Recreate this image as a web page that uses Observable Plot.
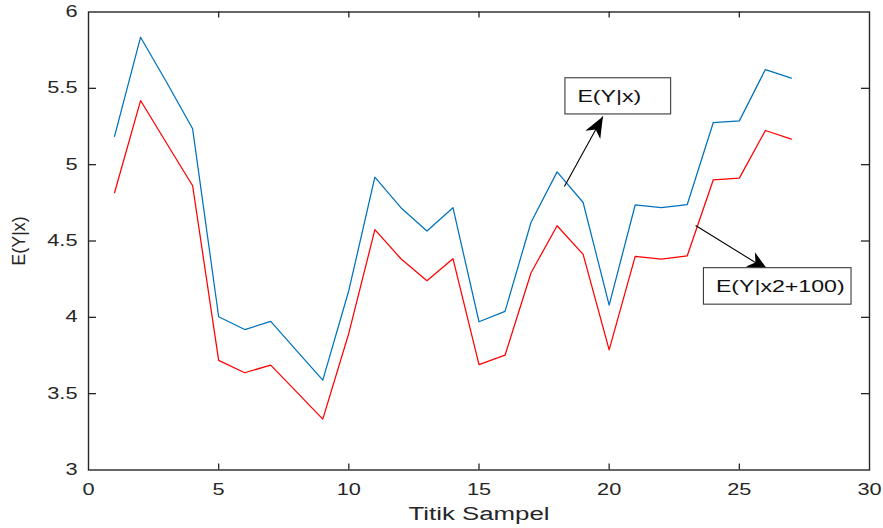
<!DOCTYPE html>
<html>
<head>
<meta charset="utf-8">
<script src="https://cdn.jsdelivr.net/npm/d3@7"></script>
<script src="https://cdn.jsdelivr.net/npm/@observablehq/plot@0.6"></script>
<style>
  html, body { margin: 0; padding: 0; background: #ffffff; }
  #chart svg { display: block; }
</style>
</head>
<body>
<div id="chart"></div>
<script>
// ---- data ----
const samples = [1,2,3,4,5,6,7,8,9,10,11,12,13,14,15,16,17,18,19,20,21,22,23,24,25,26,27];
const blueValues = [5.185,5.835,5.54,5.235,4.004,3.92,3.973,3.78,3.589,4.176,4.918,4.718,4.565,4.718,3.971,4.039,4.623,4.953,4.752,4.08,4.736,4.718,4.739,5.276,5.287,5.623,5.567];
const redValues  = [4.816,5.42,5.14,4.862,3.718,3.637,3.687,3.51,3.333,3.896,4.574,4.384,4.24,4.384,3.69,3.752,4.292,4.6,4.412,3.787,4.399,4.381,4.403,4.901,4.912,5.224,5.167];
const xTicks = [0,5,10,15,20,25,30];
const yTicks = [3,3.5,4,4.5,5,5.5,6];
const xLabel = "Titik Sampel";
const yLabel = "E(Y|x)";
// annotation boxes (data coordinates)
const boxLabels = ["E(Y|x)", "E(Y|x2+100)"];
const boxX1 = [18.32, 23.64];
const boxX2 = [22.38, 29.31];
const boxY1 = [5.329, 4.083];
const boxY2 = [5.566, 4.322];
// annotation arrows (data coordinates)
const arrowTailX = [18.28, 23.32];
const arrowTailY = [4.857, 4.602];
const arrowTipX  = [19.76, 26.11];
const arrowTipY  = [5.316, 4.307];

// ---- layout ----
const W = 883, H = 528;
const mL = 88, mR = 14, mT = 11.5, mB = 58.5;
const plotW = W - mL - mR, plotH = H - mT - mB;
const xDomain = [0, 30], yDomain = [3, 6];
const kx = plotW / (xDomain[1] - xDomain[0]);
const ky = plotH / (yDomain[1] - yDomain[0]);
const axisColor = "#262626";
const font = "'Liberation Sans', Arial, Helvetica, sans-serif";
const stretch = 1.36;

const blueData = samples.map((s, i) => ({x: s, y: blueValues[i]}));
const redData = samples.map((s, i) => ({x: s, y: redValues[i]}));
const arrowAngles = arrowTipX.map((_, i) => {
  const dx = (arrowTipX[i] - arrowTailX[i]) * kx;
  const dy = -(arrowTipY[i] - arrowTailY[i]) * ky;
  return Math.atan2(dx, -dy) * 180 / Math.PI;
});

const arrowHead = {
  draw(ctx) {
    ctx.moveTo(0, 0);
    ctx.lineTo(8.5, 21);
    ctx.lineTo(0, 15);
    ctx.lineTo(-8.5, 21);
    ctx.closePath();
  }
};

const chart = Plot.plot({
  width: W,
  height: H,
  marginLeft: mL,
  marginRight: mR,
  marginTop: mT,
  marginBottom: mB,
  style: {fontFamily: font, background: "#ffffff", color: axisColor},
  x: {domain: xDomain},
  y: {domain: yDomain},
  marks: [
    // data lines
    Plot.line(blueData, {x: "x", y: "y", stroke: "#0072BD", strokeWidth: 1.25}),
    Plot.line(redData, {x: "x", y: "y", stroke: "#FF0000", strokeWidth: 1.25}),
    // inward ticks on all four sides
    Plot.ruleX(xTicks.slice(1, -1), {x: d => d, insetTop: plotH - 6, stroke: axisColor, strokeWidth: 1.3}),
    Plot.ruleX(xTicks.slice(1, -1), {x: d => d, insetBottom: plotH - 6, stroke: axisColor, strokeWidth: 1.3}),
    Plot.ruleY(yTicks.slice(1, -1), {y: d => d, insetRight: plotW - 8, stroke: axisColor, strokeWidth: 1.3}),
    Plot.ruleY(yTicks.slice(1, -1), {y: d => d, insetLeft: plotW - 8, stroke: axisColor, strokeWidth: 1.3}),
    Plot.frame({stroke: axisColor, strokeWidth: 1.4}),
    // tick labels
    Plot.axisX({ticks: xTicks, tickSize: 0, tickPadding: 14, fontSize: 16, label: null, fill: axisColor, tickFormat: d => `${d}`}),
    Plot.axisY({ticks: yTicks, tickSize: 0, tickPadding: 11, fontSize: 16, label: null, fill: axisColor, tickFormat: d => `${d}`}),
    // axis titles
    Plot.text([xLabel], {frameAnchor: "bottom", dy: 37, lineAnchor: "top", fontSize: 19, fill: axisColor}),
    Plot.text([yLabel], {frameAnchor: "left", dx: -69, rotate: -90, textAnchor: "middle", lineAnchor: "middle", fontSize: 18, fill: axisColor}),
    // annotations
    Plot.link(boxLabels, {x1: arrowTailX, y1: arrowTailY, x2: arrowTipX, y2: arrowTipY, stroke: "#000000", strokeWidth: 1.1}),
    Plot.dot(boxLabels, {x: arrowTipX, y: arrowTipY, rotate: arrowAngles, symbol: arrowHead, fill: "#000000", stroke: "none", r: 5}),
    Plot.rect(boxLabels, {x1: boxX1, x2: boxX2, y1: boxY1, y2: boxY2, fill: "#ffffff", stroke: "#3a3a3a", strokeWidth: 1.1}),
    Plot.text(boxLabels, {x: boxX1, y: boxY1.map((v, i) => (v + boxY2[i]) / 2), dx: 12, textAnchor: "start", fontSize: 17, fill: "#111111"})
  ]
});

// horizontally widen glyphs (the reference's text is horizontally stretched)
d3.select(chart).selectAll("text").each(function() {
  const t = this.getAttribute("transform") || "";
  if (t.includes("rotate")) return;
  const x = parseFloat(this.getAttribute("x")) || 0;
  const dxAttr = this.getAttribute("dx");
  let dx = 0;
  if (dxAttr) {
    dx = dxAttr.endsWith("em") ? parseFloat(dxAttr) * 16 : parseFloat(dxAttr) || 0;
    this.removeAttribute("dx");
  }
  this.removeAttribute("x");
  this.setAttribute("transform", `${t} translate(${x + dx},0) scale(${stretch},1)`);
});

document.getElementById("chart").appendChild(chart);
</script>
</body>
</html>
